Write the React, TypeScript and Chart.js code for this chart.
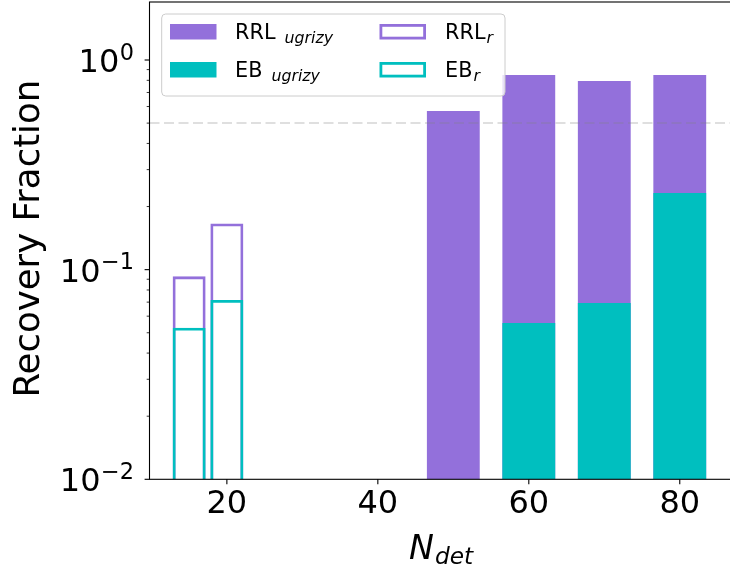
import React, { useEffect, useRef } from 'react';
import { Chart, registerables } from 'chart.js';

Chart.register(...registerables);

// ---- data ----
const ugrizyNdet = [50, 60, 70, 80];
const rrlUgrizy = [0.571, 0.848, 0.794, 0.848];
const ebUgrizy = [null, 0.0556, 0.0693, 0.232];
const rNdet = [15, 20];
const rrlR = [0.0929, 0.166];
const ebR = [0.0528, 0.0716];
const xTicks = [20, 40, 60, 80];
const yTickExponents = [-2, -1, 0];
const thresholdLine = 0.5;
const xLimits = [9.75, 87];
const yLimits = [0.01, 1.891];

const PURPLE = '#9370DB';
const TEAL = '#00BFBF';
const FONT = 'DejaVu Sans';

const decorPlugin = {
  id: 'decor',
  afterDatasetsDraw(chart: any) {
    const { ctx, chartArea, scales } = chart;
    const py = scales.y.getPixelForValue(thresholdLine);
    ctx.save();
    ctx.strokeStyle = 'rgba(128,128,128,0.25)';
    ctx.lineWidth = 2;
    ctx.setLineDash([10, 4.5]);
    ctx.beginPath();
    ctx.moveTo(chartArea.left, py);
    ctx.lineTo(chartArea.right, py);
    ctx.stroke();
    ctx.restore();
  },
  afterDraw(chart: any) {
    const { ctx, chartArea, scales } = chart;
    const { left, right, top, bottom } = chartArea;
    const xs = scales.x;
    const ys = scales.y;
    ctx.save();
    // spines
    ctx.strokeStyle = '#000';
    ctx.lineWidth = 1.1;
    ctx.strokeRect(left, top, right - left, bottom - top);
    // x ticks
    xTicks.forEach((v) => {
      const px = xs.getPixelForValue(v);
      ctx.beginPath();
      ctx.moveTo(px, bottom);
      ctx.lineTo(px, bottom + 4.9);
      ctx.stroke();
    });
    // y ticks (major + minor from scale ticks)
    ys.ticks.forEach((t: any) => {
      const v = t.value;
      const e = Math.floor(Math.log10(v) + 1e-9);
      const m = v / Math.pow(10, e);
      if (Math.abs(m - Math.round(m)) > 1e-6) return;
      if (v < yLimits[0] * 0.999 || v > yLimits[1]) return;
      const p = ys.getPixelForValue(v);
      const major = Math.round(m) === 1;
      ctx.lineWidth = major ? 1.1 : 0.8;
      ctx.beginPath();
      ctx.moveTo(left, p);
      ctx.lineTo(left - (major ? 4.9 : 2.8), p);
      ctx.stroke();
    });
    // y tick labels 10^e
    ctx.fillStyle = '#000';
    yTickExponents.forEach((e) => {
      const p = ys.getPixelForValue(Math.pow(10, e));
      const expStr = e < 0 ? '\u2212' + Math.abs(e) : String(e);
      ctx.font = `22.4px "${FONT}"`;
      ctx.textAlign = 'right';
      ctx.textBaseline = 'alphabetic';
      const expRight = 134;
      ctx.fillText(expStr, expRight, p - 0.5);
      const ew = ctx.measureText(expStr).width;
      ctx.font = `32px "${FONT}"`;
      ctx.fillText('10', expRight - ew - 0.5, p + 12);
    });
    // y label
    ctx.save();
    ctx.translate(39, (top + bottom) / 2 - 2);
    ctx.rotate(-Math.PI / 2);
    ctx.font = `35.5px "${FONT}"`;
    ctx.textAlign = 'center';
    ctx.textBaseline = 'alphabetic';
    ctx.fillText('Recovery Fraction', 0, 0);
    ctx.restore();
    // x label N_det
    {
      ctx.font = `italic 33.3px "${FONT}"`;
      const wN = ctx.measureText('N').width;
      ctx.font = `italic 23.3px "${FONT}"`;
      const wd = ctx.measureText('det').width;
      const total = wN + 1 + wd;
      const cx = (left + right) / 2;
      const x0 = cx - total / 2;
      const base = 559;
      ctx.textAlign = 'left';
      ctx.font = `italic 33.3px "${FONT}"`;
      ctx.fillText('N', x0, base);
      ctx.font = `italic 23.3px "${FONT}"`;
      ctx.fillText('det', x0 + wN + 1, base + 5);
    }
    // legend
    {
      const bx = 161.7, by = 14, bw = 343.3, bh = 82, r = 4;
      ctx.beginPath();
      ctx.moveTo(bx + r, by);
      ctx.lineTo(bx + bw - r, by);
      ctx.quadraticCurveTo(bx + bw, by, bx + bw, by + r);
      ctx.lineTo(bx + bw, by + bh - r);
      ctx.quadraticCurveTo(bx + bw, by + bh, bx + bw - r, by + bh);
      ctx.lineTo(bx + r, by + bh);
      ctx.quadraticCurveTo(bx, by + bh, bx, by + bh - r);
      ctx.lineTo(bx, by + r);
      ctx.quadraticCurveTo(bx, by, bx + r, by);
      ctx.closePath();
      ctx.fillStyle = 'rgba(255,255,255,0.8)';
      ctx.fill();
      ctx.strokeStyle = '#cccccc';
      ctx.lineWidth = 1;
      ctx.stroke();

      const entries = [
        { col: 0, row: 0, main: 'RRL', sub: 'ugrizy', space: true, color: PURPLE, filled: true },
        { col: 0, row: 1, main: 'EB', sub: 'ugrizy', space: true, color: TEAL, filled: true },
        { col: 1, row: 0, main: 'RRL', sub: 'r', space: false, color: PURPLE, filled: false },
        { col: 1, row: 1, main: 'EB', sub: 'r', space: false, color: TEAL, filled: false },
      ];
      const colPatchX = [170, 379.5];
      const colTextX = [235, 445];
      const rowTop = [24, 62];
      entries.forEach((en) => {
        const px = colPatchX[en.col];
        const pyy = rowTop[en.row];
        const pw = 46.5, ph = 15.5;
        if (en.filled) {
          ctx.fillStyle = en.color;
          ctx.fillRect(px, pyy, pw, ph);
        } else {
          ctx.strokeStyle = en.color;
          ctx.lineWidth = 2.8;
          ctx.strokeRect(px + 1.4, pyy + 1.4, pw - 2.8, ph - 2.8);
        }
        ctx.fillStyle = '#000';
        ctx.textAlign = 'left';
        ctx.textBaseline = 'alphabetic';
        const base = pyy + 15.2;
        ctx.font = `20.8px "${FONT}"`;
        ctx.fillText(en.main, colTextX[en.col], base);
        const w = ctx.measureText(en.main).width;
        ctx.font = `italic 15.8px "${FONT}"`;
        ctx.fillText(en.sub, colTextX[en.col] + w + (en.space ? 9 : 1), base + 3.5);
      });
    }
    ctx.restore();
  },
};

export default function App() {
  const canvasRef = useRef<HTMLCanvasElement | null>(null);

  useEffect(() => {
    const canvas = canvasRef.current;
    if (!canvas) return;
    const chart = new Chart(canvas, {
      type: 'bar',
      data: {
        datasets: [
          {
            label: 'EB ugrizy',
            data: ugrizyNdet.map((x, i) => ({ x, y: ebUgrizy[i] })) as any,
            backgroundColor: TEAL,
            borderWidth: 0,
            barPercentage: 1.4,
            categoryPercentage: 1,
            grouped: false,
            order: 1,
          },
          {
            label: 'RRL ugrizy',
            data: ugrizyNdet.map((x, i) => ({ x, y: rrlUgrizy[i] })) as any,
            backgroundColor: PURPLE,
            borderWidth: 0,
            barPercentage: 1.4,
            categoryPercentage: 1,
            grouped: false,
            order: 2,
          },
          {
            label: 'EB r',
            data: rNdet.map((x, i) => ({ x, y: ebR[i] })) as any,
            backgroundColor: 'rgba(0,0,0,0)',
            borderColor: TEAL,
            borderWidth: 2.8,
            borderSkipped: 'start',
            barPercentage: 0.874,
            categoryPercentage: 1,
            grouped: false,
            order: 1,
          },
          {
            label: 'RRL r',
            data: rNdet.map((x, i) => ({ x, y: rrlR[i] })) as any,
            backgroundColor: 'rgba(0,0,0,0)',
            borderColor: PURPLE,
            borderWidth: 2.8,
            borderSkipped: 'start',
            barPercentage: 0.874,
            categoryPercentage: 1,
            grouped: false,
            order: 2,
          },
        ],
      },
      options: {
        animation: false,
        responsive: false,
        devicePixelRatio: 1,
        layout: { padding: { top: 2, right: 7.4, left: 0, bottom: 0 } },
        plugins: {
          legend: { display: false },
          tooltip: { enabled: false },
        },
        scales: {
          x: {
            type: 'linear',
            offset: false,
            min: xLimits[0],
            max: xLimits[1],
            afterBuildTicks: (s: any) => {
              s.ticks = xTicks.map((v) => ({ value: v }));
            },
            ticks: {
              includeBounds: false,
              color: '#000',
              font: { family: FONT, size: 32 },
              padding: 6,
              maxRotation: 0,
              autoSkip: false,
              callback: (v: any) => String(v),
            },
            grid: { display: false, drawTicks: false, offset: false },
            border: { display: false },
            afterFit: (s: any) => {
              s.height = 571 - 479.3;
            },
          },
          y: {
            type: 'logarithmic',
            min: yLimits[0],
            max: yLimits[1],
            ticks: { display: false },
            grid: { display: false, drawTicks: false },
            border: { display: false },
            afterFit: (s: any) => {
              s.width = 149.5;
            },
          },
        },
      },
      plugins: [decorPlugin],
    } as any);
    return () => chart.destroy();
  }, []);

  return (
    <div style={{ position: 'fixed', left: 0, top: 0, width: 730, height: 571, overflow: 'hidden', background: '#fff' }}>
      <canvas ref={canvasRef} width={740} height={571} style={{ display: 'block', width: 740, height: 571 }} />
    </div>
  );
}
